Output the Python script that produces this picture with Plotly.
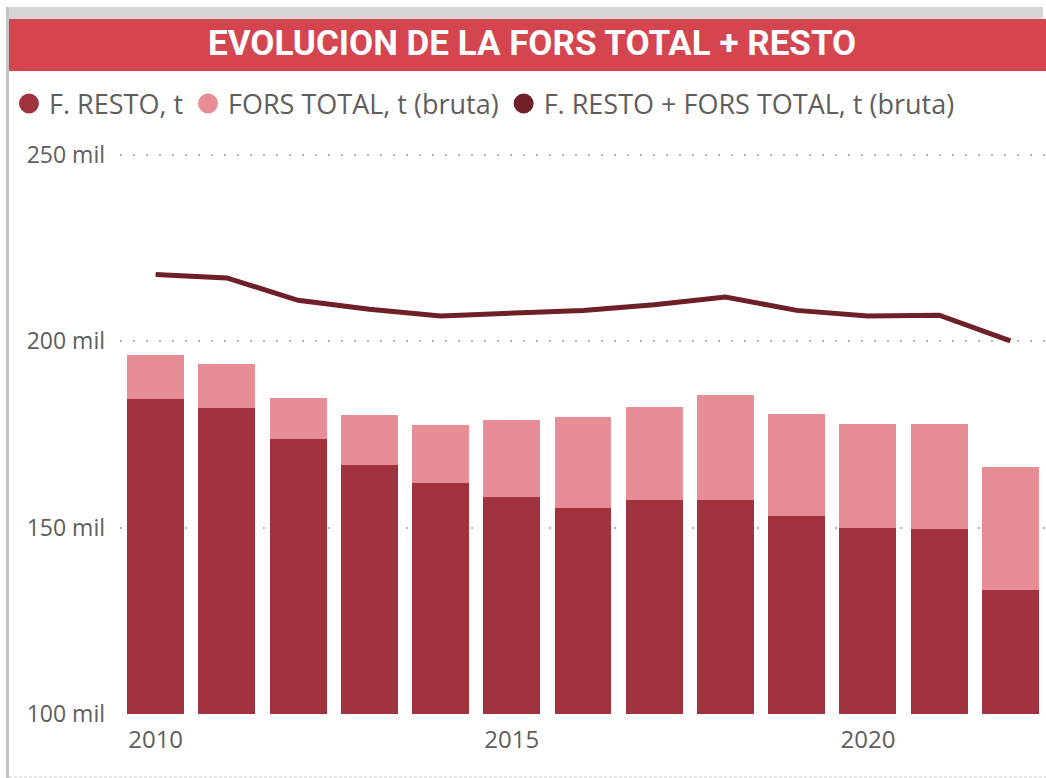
import plotly.graph_objects as go

# ---------------- data ----------------
years = list(range(2010, 2023))
f_resto = [184.5, 182.0, 173.7, 166.9, 161.9, 158.3, 155.2, 157.3, 157.5, 153.1, 150.0, 149.7, 133.2]
fors_total = [11.9, 11.8, 11.2, 13.3, 15.7, 20.6, 24.6, 25.0, 28.2, 27.4, 27.7, 28.1, 33.0]
suma_linea = [217.9, 217.0, 211.0, 208.6, 206.8, 207.6, 208.3, 209.8, 211.9, 208.3, 206.8, 207.0, 200.1]
f_resto = [v * 1000 for v in f_resto]
fors_total = [v * 1000 for v in fors_total]
suma_linea = [v * 1000 for v in suma_linea]

y_ticks = [100000, 150000, 200000, 250000]
y_ticktext = ["100 mil", "150 mil", "200 mil", "250 mil"]
x_ticks = [2010, 2015, 2020]

title_text = "EVOLUCION DE LA FORS TOTAL + RESTO"
names = ["F. RESTO, t", "FORS TOTAL, t (bruta)", "F. RESTO + FORS TOTAL, t (bruta)"]

C_DARK = "#A0333D"
C_PINK = "#E68D95"
C_LINE = "#6E1F27"
C_TITLE = "#D5454F"
C_TEXT = "#605E5C"

W, H = 1046, 778
ML, MR, MT, MB = 120, 0, 152, 64
PW, PH = W - ML - MR, H - MT - MB


def px_x(x):
    return (x - ML) / PW


def px_y(y):
    return (H - MB - y) / PH


FONT = "Segoe UI, Open Sans, sans-serif"

fig = go.Figure()
fig.add_trace(go.Bar(x=years, y=f_resto, name=names[0], marker=dict(color=C_DARK, line=dict(width=0)),
                     showlegend=False))
fig.add_trace(go.Bar(x=years, y=fors_total, name=names[1], marker=dict(color=C_PINK, line=dict(width=0)),
                     showlegend=False))
fig.add_trace(go.Scatter(x=years, y=suma_linea, name=names[2], mode="lines",
                         line=dict(color=C_LINE, width=5), showlegend=False))

# legend entries (circle markers)
for nm, col in zip(names, [C_DARK, C_PINK, C_LINE]):
    fig.add_trace(go.Scatter(x=[None], y=[None], mode="markers", name=nm,
                             marker=dict(symbol="circle", size=16, color=col, line=dict(color=col, width=4))))

shapes = [
    # top grey strip
    dict(type="rect", xref="paper", yref="paper", x0=px_x(6), x1=px_x(1043), y0=px_y(19), y1=px_y(7),
         fillcolor="#D6D6D6", line=dict(width=0), layer="below"),
    # left grey border
    dict(type="rect", xref="paper", yref="paper", x0=px_x(6), x1=px_x(9), y0=px_y(778), y1=px_y(7),
         fillcolor="#C4C4C4", line=dict(width=0), layer="below"),
    # title bar
    dict(type="rect", xref="paper", yref="paper", x0=px_x(9), x1=px_x(1046), y0=px_y(71), y1=px_y(19),
         fillcolor=C_TITLE, line=dict(width=0), layer="below"),
    # bottom dashed border
    dict(type="line", xref="paper", yref="paper", x0=px_x(9), x1=px_x(1046), y0=px_y(777), y1=px_y(777),
         line=dict(color="#D0D0D0", width=1, dash="3px,2px")),
]

fig.update_layout(
    width=W, height=H,
    margin=dict(l=ML, r=MR, t=MT, b=MB, pad=0),
    paper_bgcolor="white", plot_bgcolor="white",
    barmode="stack", bargap=0.2,
    shapes=shapes,
    annotations=[dict(text="<b>" + title_text + "</b>", xref="paper", yref="paper",
                      x=px_x(532), y=px_y(44), xanchor="center", yanchor="middle", showarrow=False,
                      font=dict(family="Roboto", size=35, color="white"))],
    legend=dict(orientation="h", x=px_x(9), y=px_y(104), xanchor="left", yanchor="middle",
                font=dict(family=FONT, size=27, color=C_TEXT), bgcolor="rgba(0,0,0,0)",
                itemwidth=30, traceorder="normal"),
    xaxis=dict(range=[2009.5, 2022.5], tickvals=x_ticks, ticktext=[str(v) for v in x_ticks],
               showgrid=False, zeroline=False, showline=False, ticks="", ticklabelstandoff=9,
               tickfont=dict(family=FONT, size=24, color=C_TEXT)),
    yaxis=dict(range=[100000, 250800], tickvals=y_ticks, ticktext=y_ticktext,
               showgrid=True, gridcolor="#B4B4B4", gridwidth=2, griddash="2px,11px",
               zeroline=False, showline=False, ticks="", ticklabelstandoff=14,
               tickfont=dict(family=FONT, size=23, color=C_TEXT)),
    showlegend=True,
)

fig.write_html("out.html", config={"displayModeBar": False},
               post_script="document.body.style.margin='0';document.body.style.overflow='hidden';")
